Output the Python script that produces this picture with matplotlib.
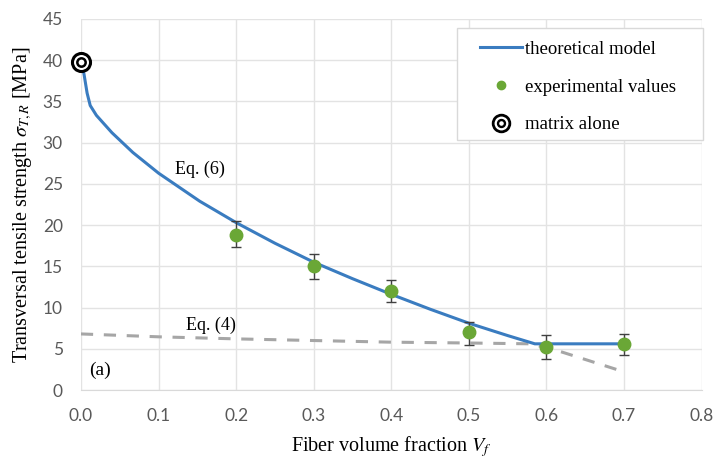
import numpy as np
import matplotlib.pyplot as plt
from matplotlib.lines import Line2D
from matplotlib.patches import Rectangle
from matplotlib.legend_handler import HandlerTuple

plt.rcParams['mathtext.fontset'] = 'stix'

# Theoretical model, Eq. (6)
vf_model = [0.0, 0.004, 0.008, 0.012, 0.02, 0.04, 0.067, 0.1, 0.153, 0.2, 0.25, 0.3, 0.35, 0.4, 0.45, 0.5, 0.55, 0.585, 0.65, 0.7]
sig_model = [40.0, 38.3, 36.0, 34.5, 33.3, 31.2, 28.8, 26.3, 22.9, 20.3, 17.8, 15.5, 13.5, 11.6, 9.8, 8.1, 6.6, 5.6, 5.6, 5.6]

# Eq. (4) dashed line
vf_eq4 = [0.0, 0.1, 0.2, 0.3, 0.4, 0.5, 0.58, 0.62, 0.7]
sig_eq4 = [6.8, 6.45, 6.2, 6.0, 5.8, 5.7, 5.6, 4.6, 2.2]

# Experimental values
vf_exp = [0.2, 0.3, 0.4, 0.5, 0.6, 0.7]
sig_exp = [18.8, 15.0, 12.0, 7.0, 5.2, 5.6]
err_lo = [1.4, 1.5, 1.3, 1.5, 1.5, 1.4]
err_hi = [1.7, 1.5, 1.3, 1.2, 1.5, 1.2]

# Matrix alone
vf_matrix = [0.0]
sig_matrix = [39.8]

xticks = [0.0, 0.1, 0.2, 0.3, 0.4, 0.5, 0.6, 0.7, 0.8]
yticks = [0, 5, 10, 15, 20, 25, 30, 35, 40, 45]

serif = 'Liberation Serif'
fig = plt.figure(figsize=(7.16, 4.61), dpi=100)
ax = fig.add_axes([0.113, 0.154, 0.867, 0.805])

ax.plot(vf_eq4, sig_eq4, ls=(0, (4, 3.5)), color='#a6a6a6', lw=2.2, zorder=2)
ax.plot(vf_model, sig_model, color='#3a7cc0', lw=2.2, zorder=3)
ax.errorbar(vf_exp, sig_exp, yerr=[err_lo, err_hi], fmt='none', ecolor='#404040',
            elinewidth=1.0, capsize=3.5, capthick=1.0, zorder=4)
ax.plot(vf_exp, sig_exp, 'o', color='#6aa736', ms=9, zorder=5, ls='none')
ax.plot(vf_matrix, sig_matrix, 'o', ms=13, mfc='white', mec='black', mew=2.2, zorder=6, clip_on=False)
ax.plot(vf_matrix, sig_matrix, 'o', ms=6, mfc='white', mec='black', mew=1.8, zorder=7, clip_on=False)

ax.text(0.153, 26.7, 'Eq. (6)', family=serif, fontsize=13, ha='center', va='center')
ax.text(0.168, 7.9, 'Eq. (4)', family=serif, fontsize=13, ha='center', va='center')
ax.text(0.024, 2.4, '(a)', family=serif, fontsize=14, ha='center', va='center')

ax.set_xlim(0, 0.8)
ax.set_ylim(0, 45)
ax.set_xticks(xticks)
ax.set_yticks(yticks)
ax.set_xticklabels([f'{t:.1f}' for t in xticks])
ax.grid(True, color='#e3e3e3', lw=1.0)
ax.set_axisbelow(True)
for s in ['top', 'right', 'left']:
    ax.spines[s].set_visible(False)
ax.spines['bottom'].set_color('#d9d9d9')
ax.tick_params(axis='x', length=0, labelsize=12.5, labelcolor='#595959', pad=13)
ax.tick_params(axis='y', length=0, labelsize=12.5, labelcolor='#595959', pad=13)
for lab in ax.get_xticklabels() + ax.get_yticklabels():
    lab.set_family('Lato')

ax.set_xlabel(r'Fiber volume fraction $V_f$', family=serif, fontsize=14.5, labelpad=7)
ax.set_ylabel(r'Transversal tensile strength $\sigma_{T,R}$ [MPa]', family=serif, fontsize=14.5, labelpad=6)

# legend box (Excel style: wide padding on the left)
ax.add_patch(Rectangle((0.6055, 0.674), 0.3965, 0.302, transform=ax.transAxes,
                       facecolor='white', edgecolor='#d9d9d9', lw=1.0, zorder=8, clip_on=False))

h_model = Line2D([], [], color='#3a7cc0', lw=2.2)
h_exp = Line2D([], [], marker='o', color='#6aa736', ls='none', ms=6)
h_m1 = Line2D([], [], marker='o', ms=12, mfc='white', mec='black', mew=2.0, ls='none')
h_m2 = Line2D([], [], marker='o', ms=5, mfc='white', mec='black', mew=1.7, ls='none')
leg = ax.legend([h_model, h_exp, (h_m1, h_m2)], ['theoretical model', 'experimental values', 'matrix alone'],
                handler_map={tuple: HandlerTuple(ndivide=1, pad=0)},
                loc='upper left', bbox_to_anchor=(0.6425, 0.941), borderaxespad=0, borderpad=0,
                prop={'family': serif, 'size': 13.5}, frameon=False, labelspacing=1.1,
                handlelength=2.25, handletextpad=0.15)
leg.set_zorder(9)

fig.savefig('out.png', dpi=100)
